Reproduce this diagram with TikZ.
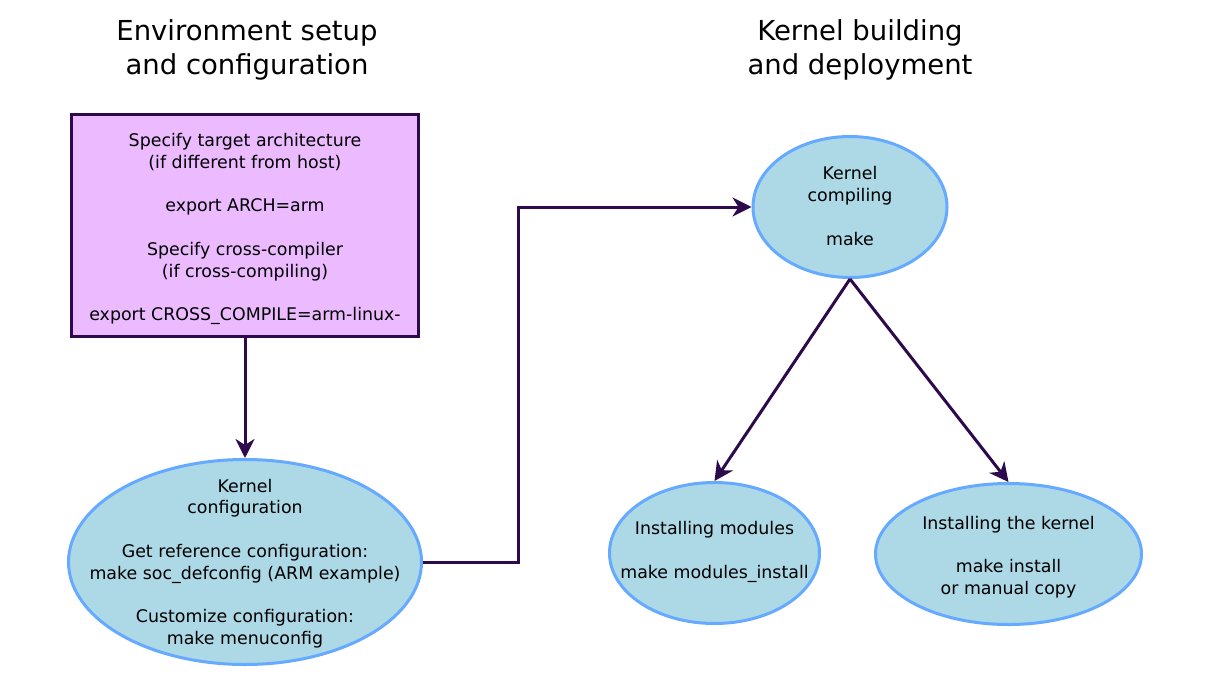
\documentclass[tikz,border=0pt]{standalone}
\usepackage{fontspec}
\setmainfont{DejaVu Sans}
\usetikzlibrary{shapes.geometric,arrows.meta}
\definecolor{boxfill}{HTML}{ECBAFF}
\definecolor{darkline}{HTML}{2D0A4B}
\definecolor{ellfill}{HTML}{ADD8E6}
\definecolor{ellline}{HTML}{66AAFF}
\tikzset{>={Stealth[length=19pt,width=19pt,inset=6pt]}}

\begin{document}
\begin{tikzpicture}[x=1pt, y=-1pt,
    txt/.style={align=center, font=\fontsize{17.4}{21.8}\selectfont},
    title/.style={align=center, font=\fontsize{27.5}{34}\selectfont},
    setupbox/.style={rectangle, draw=darkline, fill=boxfill, line width=3pt, inner sep=0pt,
      minimum width=347pt, minimum height=222pt, txt},
    stage/.style={ellipse, draw=ellline, fill=ellfill, line width=3pt, inner sep=0pt},
    flow/.style={->, draw=darkline, line width=3pt}]
        \useasboundingbox (0,0) rectangle (1227,694);

        % column titles
        \node[title] (envtitle) at (247,50) {Environment setup\\and configuration};
        \node[title] (kerntitle) at (860,50) {Kernel building\\and deployment};

        % left column
        \node[setupbox] (setup) at (245,225.5) {};
        \node[txt] (setuptext) at (245,229) {Specify target architecture\\(if different from host)\\[21.8pt]export ARCH=arm\\[21.8pt]Specify cross-compiler\\(if cross-compiling)\\[21.8pt]export CROSS\_COMPILE=arm-linux-};
        \node[stage, minimum width=353pt, minimum height=205pt] (config) at (245,562) {};
        \node[txt] (configtext) at (245,563.5) {Kernel\\configuration\\[21.8pt]Get reference configuration:\\make soc\_defconfig (ARM example)\\[21.8pt]Customize configuration:\\make menuconfig};

        % right column
        \node[stage, minimum width=194pt, minimum height=141pt] (compile) at (850,207) {};
        \node[txt] (compiletext) at (850,206) {Kernel\\compiling\\[21.8pt]make};
        \node[stage, minimum width=210pt, minimum height=141pt] (modules) at (714.5,553) {};
        \node[txt] (modulestext) at (714.5,552) {Installing modules\\[21.8pt]make modules\_install};
        \node[stage, minimum width=266pt, minimum height=141pt] (install) at (1008.5,554) {};
        \node[txt] (installtext) at (1008.5,557) {Installing the kernel\\[21.8pt]make install\\or manual copy};

        \coordinate (bend) at (518,380);

        \draw[flow] (setup) -- (config);
        \draw[flow] (config.east) -| (bend) |- (compile.west);
        \draw[flow] (compile.south) -- (modules.north);
        \draw[flow] (compile.south) -- (install.north);
\end{tikzpicture}
\end{document}
